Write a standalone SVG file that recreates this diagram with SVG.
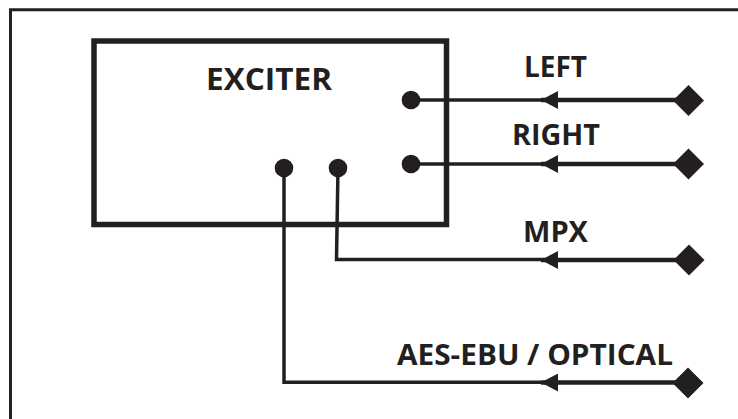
<svg xmlns="http://www.w3.org/2000/svg" width="738" height="419" viewBox="0 0 738 419">
<defs>
<style>
.frame{fill:none;stroke:#231f20;stroke-width:3}
.box{fill:none;stroke:#231f20;stroke-width:5.5}
.wire{fill:none;stroke:#231f20;stroke-width:3.5}
.wire2{fill:none;stroke:#231f20;stroke-width:4.5}
.dot{fill:#231f20}
.lbl{font-family:"Open Sans","Liberation Sans",Arial,sans-serif;font-weight:bold;font-size:29px;fill:#231f20}
</style>
<marker id="arr" viewBox="0 0 17 18" refX="17" refY="9" markerWidth="17" markerHeight="18" markerUnits="userSpaceOnUse" orient="auto">
<path d="M17,9 L0,0 L0,18 Z" fill="#231f20"/>
</marker>
<path id="dia" d="M-15.5,0 L0,-15.5 L15.5,0 L0,15.5 Z" fill="#231f20"/>
</defs>
<rect width="738" height="419" fill="#fff"/>
<path class="frame" d="M10.5,419 V9.8 H738"/>
<g id="exciter">
<rect class="box" x="94" y="41" width="352.5" height="183.5"/>
<text class="lbl" x="206" y="90" style="font-size:31px" textLength="126" lengthAdjust="spacingAndGlyphs">EXCITER</text>
<circle class="dot" cx="411" cy="100" r="9.3"/>
<circle class="dot" cx="411" cy="164" r="9.3"/>
<circle class="dot" cx="284" cy="168" r="9.3"/>
<circle class="dot" cx="338" cy="168" r="9.3"/>
</g>
<g id="connectors">
<path class="wire" d="M411,100 H541"/>
<path class="wire2" d="M688,100 H541" marker-end="url(#arr)"/>
<path class="wire" d="M411,164 H541"/>
<path class="wire2" d="M688,164 H541" marker-end="url(#arr)"/>
<path class="wire" d="M338,168 L336.5,259.5 H541"/>
<path class="wire2" d="M688,260 H541" marker-end="url(#arr)"/>
<path class="wire" d="M284,168 V382.3 H541"/>
<path class="wire2" d="M688,382.5 H541" marker-end="url(#arr)"/>
</g>
<g id="left-input">
<use href="#dia" x="688.5" y="100.5"/>
<text class="lbl" x="524" y="77" textLength="63" lengthAdjust="spacingAndGlyphs">LEFT</text>
</g>
<g id="right-input">
<use href="#dia" x="688.5" y="164"/>
<text class="lbl" x="512" y="145" textLength="88" lengthAdjust="spacingAndGlyphs">RIGHT</text>
</g>
<g id="mpx-input">
<use href="#dia" x="689" y="260"/>
<text class="lbl" x="523" y="242" textLength="65" lengthAdjust="spacingAndGlyphs">MPX</text>
</g>
<g id="aes-input">
<use href="#dia" x="688" y="383"/>
<text class="lbl" x="397" y="365" textLength="276" lengthAdjust="spacingAndGlyphs">AES-EBU / OPTICAL</text>
</g>
</svg>
